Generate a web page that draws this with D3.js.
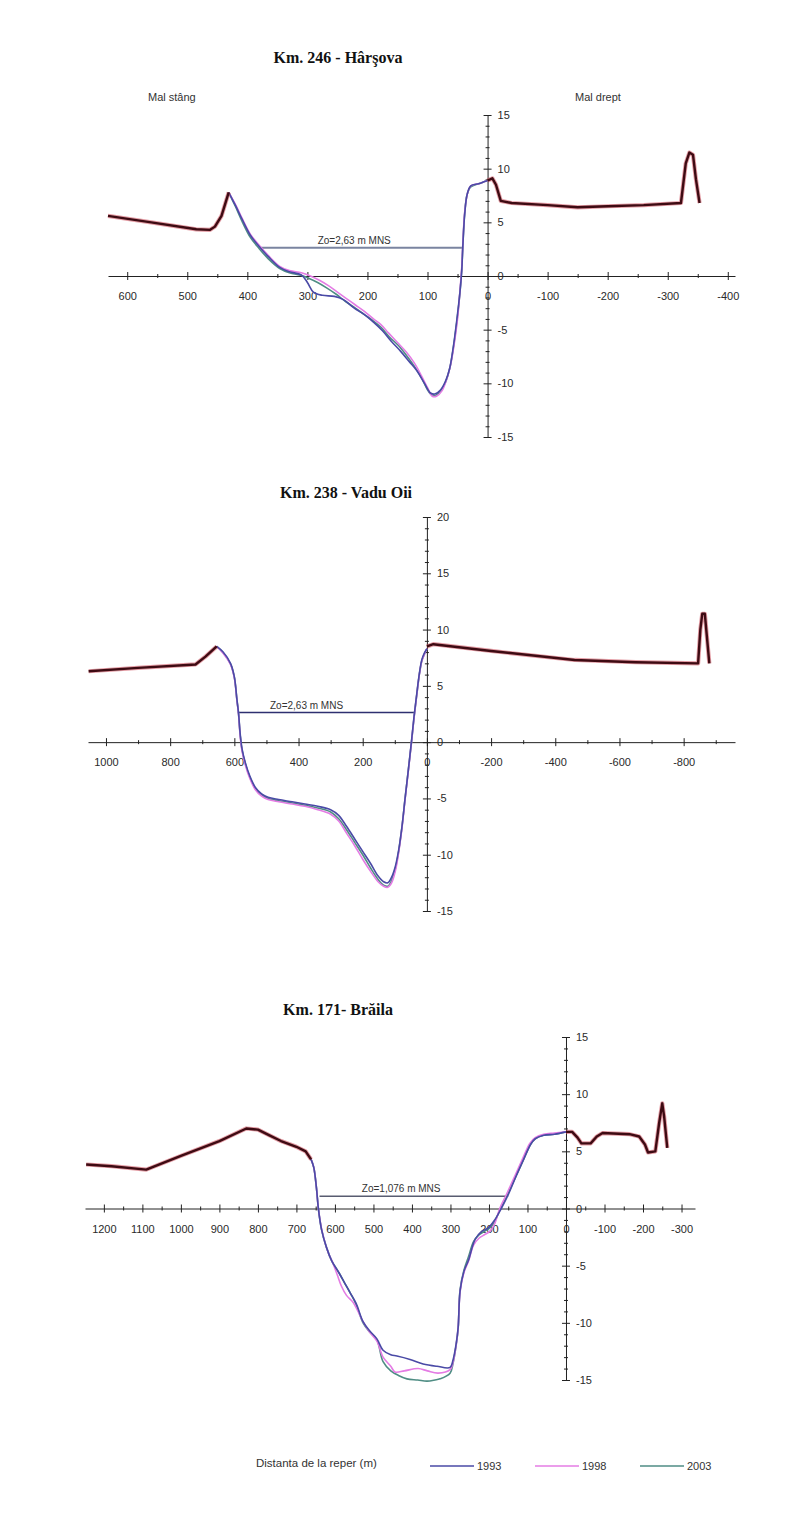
<!DOCTYPE html>
<html>
<head>
<meta charset="utf-8">
<script src="https://cdn.jsdelivr.net/npm/d3@7"></script>
<style>
  body { margin: 0; background: #fff; }
  svg { display: block; background: #fff; }
  .tick text { font-family: "Liberation Sans", Arial, sans-serif; font-size: 11px; fill: #2a2a2a; }
</style>
</head>
<body>
<svg id="chart" width="801" height="1513"></svg>
<script>
// Cross sections of the Danube: distance from the reference mark (m) vs. elevation (m MNS)

// ---------- Km. 246 - Hârşova ----------
const harsovaXTicks = [600, 500, 400, 300, 200, 100, 0, -100, -200, -300, -400];
const harsovaYTicks = [-15, -10, -5, 0, 5, 10, 15];
const harsovaZo = 2.63;
const harsovaZoSpan = [378, 42];
const harsovaBankLeft = [[632,5.6],[560,5.0],[485,4.35],[462,4.3],[454,4.6],[443,5.6],[431,7.8]];
const harsovaBankRight = [[0,8.9],[-8,9.1],[-14,8.5],[-22,7.0],[-40,6.8],[-100,6.6],[-150,6.4],[-200,6.5],[-260,6.6],[-322,6.8],[-330,10.5],[-336,11.5],[-342,11.3],[-347,9.0],[-353,6.8]];
const harsova1993 = [[431,7.8],[420,6.6],[408,5.2],[395,3.8],[381,2.8],[365,1.8],[346,0.8],[330,0.4],[310,0.1],[300,-0.6],[290,-1.5],[275,-1.8],[255,-1.9],[240,-2.2],[222,-3.0],[205,-3.6],[190,-4.3],[175,-5.1],[160,-6.1],[145,-7.0],[130,-8.0],[118,-8.8],[105,-10.0],[95,-10.9],[88,-11.0],[78,-10.6],[70,-9.8],[63,-8.6],[57,-6.6],[51,-4.0],[46,-1.5],[43,0.5],[41,3.0],[38,5.8],[34,7.6],[28,8.4],[15,8.6],[5,8.8],[0,8.9]];
const harsova1998 = [[431,7.8],[420,6.7],[408,5.3],[395,3.9],[381,2.9],[365,1.9],[346,0.9],[330,0.5],[310,0.3],[295,0.0],[280,-0.4],[265,-0.9],[250,-1.5],[235,-2.1],[220,-2.7],[205,-3.3],[190,-4.0],[178,-4.5],[165,-5.3],[150,-6.2],[135,-7.1],[122,-8.1],[110,-9.3],[100,-10.4],[92,-11.2],[85,-11.2],[76,-10.7],[68,-9.6],[62,-8.4],[56,-6.5],[50,-4.0],[46,-1.4],[43,0.8],[41,3.2],[38,6.0],[33,7.8],[28,8.4],[15,8.6],[5,8.8],[0,8.9]];
const harsova2003 = [[431,7.8],[420,6.5],[408,5.0],[395,3.6],[381,2.6],[365,1.6],[346,0.7],[330,0.3],[310,0.05],[298,-0.2],[283,-0.6],[268,-1.1],[252,-1.7],[236,-2.4],[220,-3.0],[205,-3.6],[190,-4.2],[177,-4.8],[163,-5.7],[148,-6.5],[135,-7.4],[122,-8.4],[110,-9.5],[100,-10.6],[93,-11.1],[86,-11.1],[78,-10.7],[70,-9.9],[63,-8.6],[57,-6.7],[51,-4.2],[46,-1.6],[43,0.6],[41,3.0],[38,5.9],[34,7.6],[28,8.3],[15,8.6],[5,8.8],[0,8.9]];

// ---------- Km. 238 - Vadu Oii ----------
const vaduXTicks = [1000, 800, 600, 400, 200, 0, -200, -400, -600, -800];
const vaduYTicks = [-15, -10, -5, 0, 5, 10, 15, 20];
const vaduZo = 2.63;
const vaduZoSpan = [589, 37];
const vaduBankLeft = [[1054,6.3],[900,6.6],[721,6.9],[690,7.6],[655,8.5]];
const vaduBankRight = [[0,8.5],[-20,8.7],[-200,8.1],[-460,7.3],[-650,7.1],[-845,7.0],[-852,10.0],[-858,11.4],[-866,11.4],[-872,9.5],[-880,7.0]];
const vadu1993 = [[655,8.5],[635,8.0],[612,7.0],[600,5.8],[592,3.8],[587,2.6],[582,0.8],[576,-0.6],[566,-1.8],[552,-3.0],[535,-4.0],[515,-4.6],[495,-4.9],[462,-5.1],[420,-5.3],[380,-5.5],[340,-5.7],[300,-6.0],[275,-6.5],[250,-7.5],[225,-8.6],[200,-9.7],[175,-10.8],[152,-11.9],[135,-12.4],[122,-12.5],[110,-12.0],[98,-11.0],[88,-9.6],[78,-7.6],[68,-5.0],[58,-2.5],[48,0.1],[40,2.3],[32,4.2],[24,6.0],[16,7.3],[8,7.9],[0,8.3]];
const vadu1998 = [[655,8.5],[635,7.9],[612,6.9],[600,5.7],[592,3.7],[587,2.5],[582,0.6],[576,-0.8],[566,-2.0],[552,-3.2],[535,-4.2],[515,-4.8],[495,-5.1],[462,-5.3],[420,-5.5],[380,-5.7],[340,-6.0],[300,-6.4],[275,-7.0],[250,-8.1],[225,-9.2],[200,-10.4],[175,-11.5],[152,-12.4],[135,-12.8],[122,-12.9],[110,-12.5],[98,-11.4],[88,-9.8],[78,-7.7],[68,-5.1],[58,-2.6],[48,0.0],[40,2.2],[32,4.1],[24,5.9],[16,7.2],[8,7.8],[0,8.3]];
const vadu2003 = [[655,8.5],[635,7.95],[612,6.95],[600,5.75],[592,3.75],[587,2.55],[582,0.7],[576,-0.7],[566,-1.9],[552,-3.1],[535,-4.1],[515,-4.7],[495,-5.0],[462,-5.2],[420,-5.4],[380,-5.6],[340,-5.85],[300,-6.2],[275,-6.8],[250,-7.8],[225,-8.9],[200,-10.0],[175,-11.2],[152,-12.2],[135,-12.7],[122,-12.8],[110,-12.3],[98,-11.2],[88,-9.7],[78,-7.6],[68,-5.0],[58,-2.5],[48,0.0],[40,2.2],[32,4.1],[24,5.9],[16,7.2],[8,7.8],[0,8.3]];

// ---------- Km. 171 - Brăila ----------
const brailaXTicks = [1200, 1100, 1000, 900, 800, 700, 600, 500, 400, 300, 200, 100, 0, -100, -200, -300];
const brailaYTicks = [-15, -10, -5, 0, 5, 10, 15];
const brailaZo = 1.076;
const brailaZoSpan = [640, 150];
const brailaBankLeft = [[1246,3.85],[1180,3.7],[1090,3.4],[1000,4.6],[900,5.9],[830,7.0],[800,6.9],[770,6.4],[740,5.9],[700,5.4],[676,5.0],[662,4.3]];
const brailaBankRight = [[0,6.7],[-16,6.7],[-30,6.2],[-40,5.7],[-64,5.7],[-80,6.3],[-95,6.6],[-165,6.5],[-190,6.3],[-205,5.6],[-213,4.9],[-232,5.0],[-242,7.5],[-250,9.2],[-255,8.0],[-263,5.3]];
const braila1993 = [[662,4.3],[655,3.6],[648,1.8],[643,0.0],[635,-1.8],[622,-3.4],[608,-4.6],[590,-5.6],[575,-6.5],[560,-7.4],[545,-8.3],[527,-9.9],[510,-10.7],[491,-11.4],[475,-12.4],[455,-12.8],[439,-12.9],[405,-13.2],[371,-13.6],[335,-13.8],[301,-13.9],[293,-13.2],[285,-11.8],[280,-10.4],[275,-7.2],[265,-5.5],[253,-4.5],[236,-2.7],[219,-2.0],[202,-1.7],[185,-1.0],[168,0.0],[150,1.2],[130,2.8],[110,4.3],[92,5.6],[80,6.1],[58,6.4],[30,6.5],[0,6.7]];
const braila1998 = [[662,4.3],[655,3.6],[648,1.8],[643,0.0],[632,-2.2],[618,-3.8],[605,-4.8],[594,-5.8],[583,-6.8],[570,-7.6],[553,-8.2],[540,-9.0],[527,-9.9],[510,-10.8],[491,-11.6],[475,-13.0],[455,-13.8],[444,-14.3],[420,-14.2],[384,-14.0],[360,-14.2],[332,-14.4],[301,-14.1],[293,-13.4],[285,-11.9],[280,-10.4],[275,-7.3],[265,-5.6],[253,-4.6],[240,-3.2],[226,-2.6],[212,-2.3],[198,-2.0],[186,-1.4],[172,0.0],[155,1.2],[132,2.9],[112,4.4],[94,5.7],[80,6.2],[58,6.5],[30,6.6],[0,6.7]];
const braila2003 = [[662,4.3],[655,3.6],[648,1.8],[643,0.0],[635,-1.8],[622,-3.4],[608,-4.6],[590,-5.6],[575,-6.5],[560,-7.4],[545,-8.4],[527,-10.0],[510,-10.8],[491,-11.5],[475,-13.4],[455,-14.2],[435,-14.6],[413,-14.9],[385,-15.0],[361,-15.1],[340,-15.0],[327,-14.9],[301,-14.4],[293,-13.5],[285,-11.9],[280,-10.5],[275,-7.1],[265,-5.4],[253,-4.2],[240,-2.9],[226,-2.3],[212,-2.0],[198,-1.7],[186,-1.2],[170,0.0],[152,1.2],[130,2.8],[110,4.3],[92,5.6],[80,6.1],[58,6.4],[30,6.5],[0,6.7]];

// ---------- legend ----------
const seriesYears = ["1993", "1998", "2003"];

// ---------- styling ----------
const yearColor = { "1993": "#4a4aa6", "1998": "#e47ce4", "2003": "#4f8d84" };
const bankColor = "#3e0b13";
const bankHalo = "#cc4a5a";

const svg = d3.select("#chart");

const panels = [
  {
    title: "Km. 246 - Hârşova", titleX: 338, titleY: 63,
    xDomain: [632, -412], xRange: [108, 735],
    yDomain: [-15, 15], yRange: [437, 115],
    xTicks: harsovaXTicks, xMinor: 50, yTicks: harsovaYTicks,
    bank: [harsovaBankLeft, harsovaBankRight],
    years: { "1993": harsova1993, "1998": harsova1998, "2003": harsova2003 },
    zo: harsovaZo, zoSpan: harsovaZoSpan, zoText: "Zo=2,63 m MNS", zoTextAt: 222,
    zoColor: "#7a84a0", zoWidth: 1.8
  },
  {
    title: "Km. 238 - Vadu Oii", titleX: 346, titleY: 498,
    xDomain: [1056, -960], xRange: [88, 735],
    yDomain: [-15, 20], yRange: [911, 517],
    xTicks: vaduXTicks, xMinor: 100, yTicks: vaduYTicks,
    bank: [vaduBankLeft, vaduBankRight],
    years: { "1993": vadu1993, "1998": vadu1998, "2003": vadu2003 },
    zo: vaduZo, zoSpan: vaduZoSpan, zoText: "Zo=2,63 m MNS", zoTextAt: 375,
    zoColor: "#2e3070", zoWidth: 1.4
  },
  {
    title: "Km. 171- Brăila", titleX: 338, titleY: 1015,
    xDomain: [1249, -335], xRange: [85, 695],
    yDomain: [-15, 15], yRange: [1380, 1037],
    xTicks: brailaXTicks, xMinor: 50, yTicks: brailaYTicks,
    bank: [brailaBankLeft, brailaBankRight],
    years: { "1993": braila1993, "1998": braila1998, "2003": braila2003 },
    zo: brailaZo, zoSpan: brailaZoSpan, zoText: "Zo=1,076 m MNS", zoTextAt: 428,
    zoColor: "#585c70", zoWidth: 1.5
  }
];

function drawPanel(p) {
  const g = svg.append("g");
  const x = d3.scaleLinear().domain(p.xDomain).range(p.xRange);
  const y = d3.scaleLinear().domain(p.yDomain).range(p.yRange);
  const fmt = d => String(d);

  // title
  g.append("text")
    .attr("x", p.titleX).attr("y", p.titleY)
    .attr("text-anchor", "middle")
    .attr("font-family", "'Liberation Serif', 'Times New Roman', serif")
    .attr("font-weight", "bold").attr("font-size", 16).attr("fill", "#111")
    .text(p.title);

  // minor ticks on both axes
  const xMinorVals = d3.range(Math.ceil(p.xDomain[1] / p.xMinor) * p.xMinor, p.xDomain[0], p.xMinor)
    .filter(v => !p.xTicks.includes(v));
  const yMinorVals = d3.range(p.yDomain[0], p.yDomain[1] + 1, 1).filter(v => !p.yTicks.includes(v));

  const gxMinor = g.append("g").attr("transform", `translate(0,${y(0)})`)
    .call(d3.axisBottom(x).tickValues(xMinorVals).tickFormat("").tickSize(2).tickSizeOuter(0));
  gxMinor.select(".domain").remove();
  gxMinor.selectAll(".tick line").attr("y1", -2).attr("stroke", "#222");

  const gyMinor = g.append("g").attr("transform", `translate(${x(0)},0)`)
    .call(d3.axisRight(y).tickValues(yMinorVals).tickFormat("").tickSize(2).tickSizeOuter(0));
  gyMinor.select(".domain").remove();
  gyMinor.selectAll(".tick line").attr("x1", -2).attr("stroke", "#222");

  // x axis (horizontal line at 0 m)
  const gx = g.append("g").attr("transform", `translate(0,${y(0)})`)
    .call(d3.axisBottom(x).tickValues(p.xTicks).tickFormat(fmt).tickSize(4).tickSizeOuter(0).tickPadding(12.5));
  gx.select(".domain").attr("stroke", "#222");
  gx.selectAll(".tick line").attr("y1", -4).attr("stroke", "#222");

  // y axis (vertical line at the reference mark)
  const gy = g.append("g").attr("transform", `translate(${x(0)},0)`)
    .call(d3.axisRight(y).tickValues(p.yTicks).tickFormat(fmt).tickSize(4).tickSizeOuter(0).tickPadding(6));
  gy.select(".domain").attr("stroke", "#222");
  gy.selectAll(".tick line").attr("x1", -4).attr("stroke", "#222");

  const line = d3.line().x(d => x(d[0])).y(d => y(d[1]));
  const smooth = d3.line().x(d => x(d[0])).y(d => y(d[1])).curve(d3.curveCatmullRom.alpha(0.5));

  // Zo reference water level
  g.append("line")
    .attr("x1", x(p.zoSpan[0])).attr("x2", x(p.zoSpan[1]))
    .attr("y1", y(p.zo)).attr("y2", y(p.zo))
    .attr("stroke", p.zoColor).attr("stroke-width", p.zoWidth);
  g.append("text")
    .attr("x", x(p.zoTextAt)).attr("y", y(p.zo) - 4)
    .attr("text-anchor", "middle")
    .attr("font-family", "'Liberation Sans', Arial, sans-serif")
    .attr("font-size", 10).attr("fill", "#333")
    .text(p.zoText);

  // riverbed profiles for each survey year
  ["2003", "1998", "1993"].forEach(yr => {
    g.append("path").datum(p.years[yr])
      .attr("d", smooth).attr("fill", "none")
      .attr("stroke", yearColor[yr]).attr("stroke-width", 1.6)
      .attr("stroke-linejoin", "round");
  });

  // banks (dark line with reddish halo)
  p.bank.forEach(seg => {
    g.append("path").datum(seg).attr("d", line).attr("fill", "none")
      .attr("stroke", bankHalo).attr("stroke-opacity", 0.55).attr("stroke-width", 4.2)
      .attr("stroke-linejoin", "round");
    g.append("path").datum(seg).attr("d", line).attr("fill", "none")
      .attr("stroke", bankColor).attr("stroke-width", 2.4)
      .attr("stroke-linejoin", "round");
  });
}

panels.forEach(drawPanel);

// bank captions above the first section
const sans = "'Liberation Sans', Arial, sans-serif";
svg.append("text").attr("x", 148).attr("y", 101).attr("font-family", sans)
  .attr("font-size", 11).attr("fill", "#333").text("Mal stâng");
svg.append("text").attr("x", 575).attr("y", 101).attr("font-family", sans)
  .attr("font-size", 11).attr("fill", "#333").text("Mal drept");

// axis caption and legend
svg.append("text").attr("x", 256).attr("y", 1467).attr("font-family", sans)
  .attr("font-size", 11.5).attr("fill", "#333").text("Distanta de la reper (m)");

const legendX = d3.scalePoint().domain(seriesYears).range([430, 640]);
const lg = svg.append("g").selectAll("g").data(seriesYears).join("g")
  .attr("transform", d => `translate(${legendX(d)},1466)`);
lg.append("line").attr("x1", 0).attr("x2", 44).attr("y1", 0).attr("y2", 0)
  .attr("stroke", d => yearColor[d]).attr("stroke-width", 1.6);
lg.append("text").attr("x", 47).attr("y", 4).attr("font-family", sans)
  .attr("font-size", 11).attr("fill", "#333").text(d => d);
</script>
</body>
</html>
